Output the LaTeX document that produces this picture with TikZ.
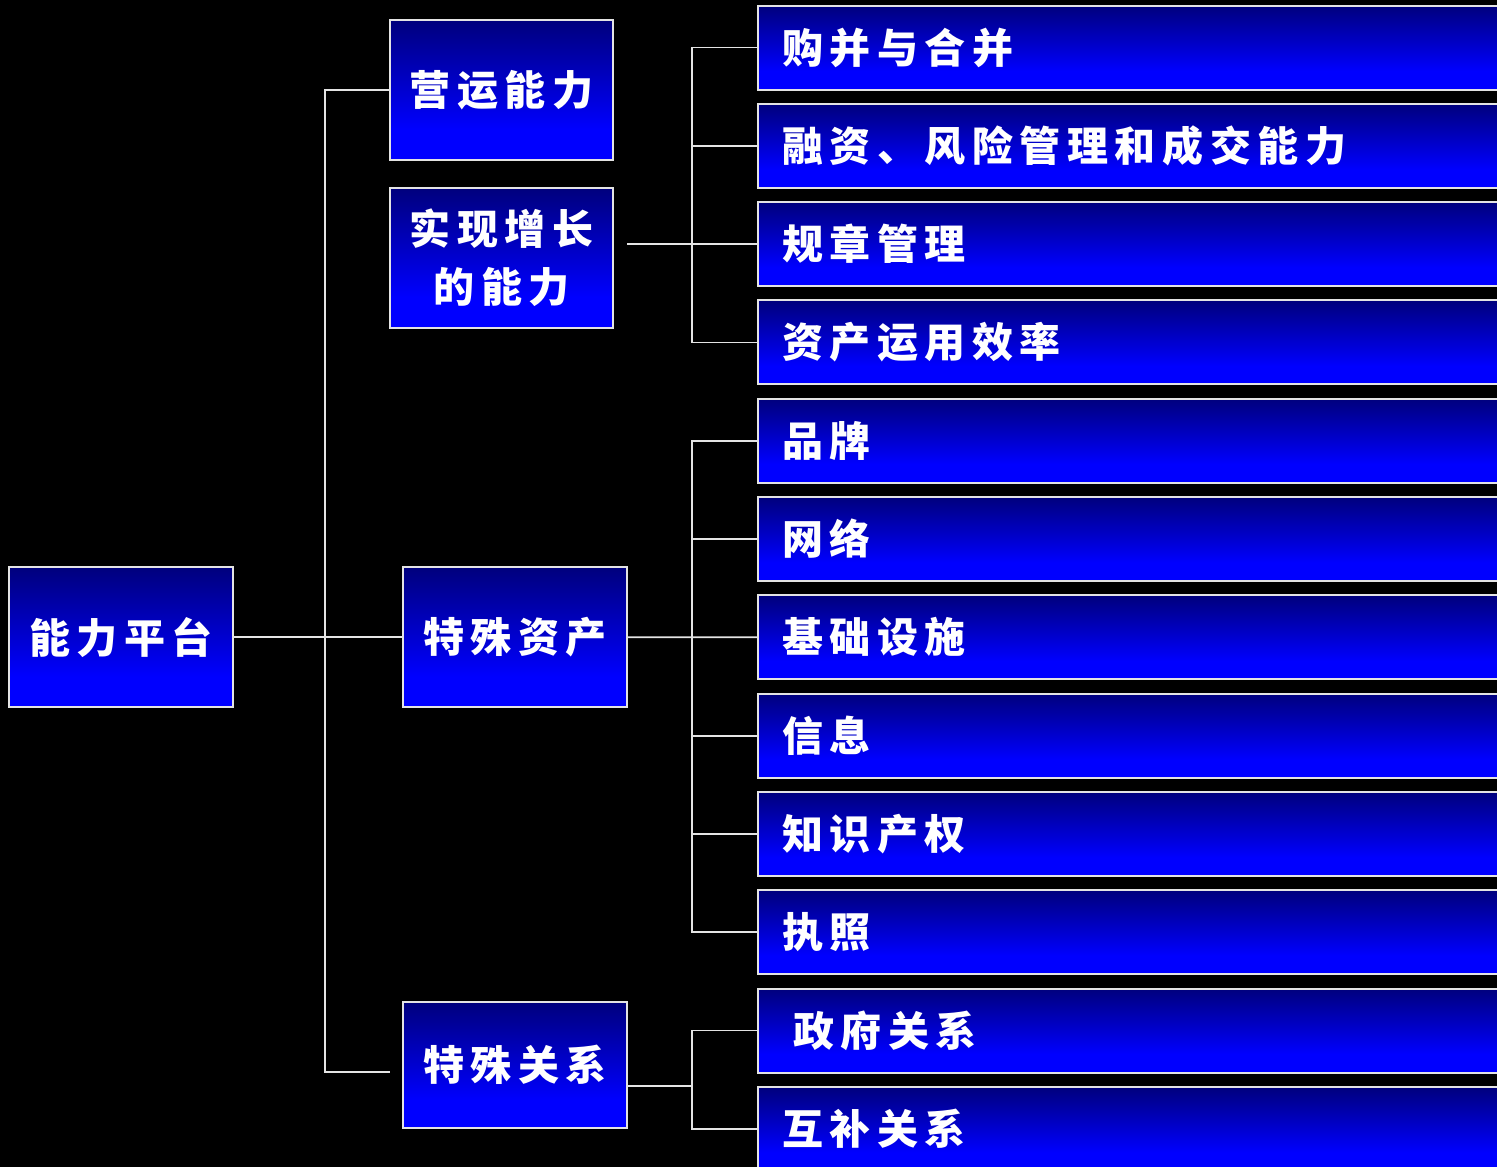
\documentclass[tikz,border=0pt]{standalone}
\usepackage{fontspec}
\newfontfamily\cjk{Noto Sans CJK SC}[LetterSpace=16]
\definecolor{navytop}{RGB}{0,0,125}
\definecolor{brightblue}{RGB}{0,0,255}
\definecolor{edgegray}{RGB}{228,228,228}
\pgfdeclareverticalshading{boxshade}{100bp}{color(0bp)=(brightblue); color(36bp)=(brightblue); color(75bp)=(navytop); color(100bp)=(navytop)}
\tikzset{
  blkbox/.style={shading=boxshade, draw=edgegray, line width=2pt, outer sep=0pt,
    text=white, font=\cjk\bfseries\fontsize{41}{58}\selectfont},
  lbox/.style={blkbox, minimum width=223pt, minimum height=140pt, align=center, inner sep=0pt},
  rbox/.style={blkbox, anchor=west, minimum width=780pt, minimum height=84pt,
    text width=732pt, inner xsep=24pt, inner ysep=0pt, align=left},
  conn/.style={draw=edgegray, line width=1.8pt}
}
\begin{document}
\begin{tikzpicture}[x=1pt,y=-1pt]
\useasboundingbox (0,0) rectangle (1497,1167);
\fill[black] (0,0) rectangle (1497,1167);
\clip (0,0) rectangle (1497,1167);

% left boxes
\node[lbox, minimum width=224pt] (root) at (121,637.3) {能力平台};
\node[lbox] (op) at (501.5,90) {营运能力};
\node[lbox] (gr) at (501.5,258) {实现增长\\的能力};
\node[lbox, minimum width=224pt] (sa) at (515,637.3) {特殊资产};
\node[lbox, minimum width=224pt, minimum height=126pt] (sr) at (515,1065) {特殊关系};

% right boxes
\foreach \i/\t in {1/购并与合并, 2/融资、风险管理和成交能力, 3/规章管理, 4/资产运用效率,
  5/品牌, 6/网络, 7/基础设施, 8/信息, 9/知识产权, 10/执照,
  11/\hspace*{11pt}政府关系, 12/互补关系}
  \node[rbox] (r\i) at (758,{47.5+98.3*(\i-1)}) {\t};

% coordinates
\coordinate (b0) at (325,0);
\coordinate (b1) at (692,0);
\coordinate (srin) at (390,1072);
\coordinate (grout) at (627,244.1);
\coordinate (srout) at (627,1086);

% left trunk
\draw[conn] (op.west) -- (op.west -| b0) -- (srin -| b0) -- (srin);
\draw[conn] (root.east) -- (sa.west);

% group 1
\draw[conn] (r1.west) -- (r1.west -| b1) -- (r4.west -| b1) -- (r4.west);
\draw[conn] (r2.west) -- (r2.west -| b1);
\draw[conn] (grout) -- (r3.west);

% group 2
\draw[conn] (r5.west) -- (r5.west -| b1) -- (r10.west -| b1) -- (r10.west);
\draw[conn] (r6.west) -- (r6.west -| b1);
\draw[conn] (sa.east) -- (r7.west);
\draw[conn] (r8.west) -- (r8.west -| b1);
\draw[conn] (r9.west) -- (r9.west -| b1);

% group 3
\draw[conn] (r11.west) -- (r11.west -| b1) -- (r12.west -| b1) -- (r12.west);
\draw[conn] (srout) -- (srout -| b1);
\end{tikzpicture}
\end{document}
